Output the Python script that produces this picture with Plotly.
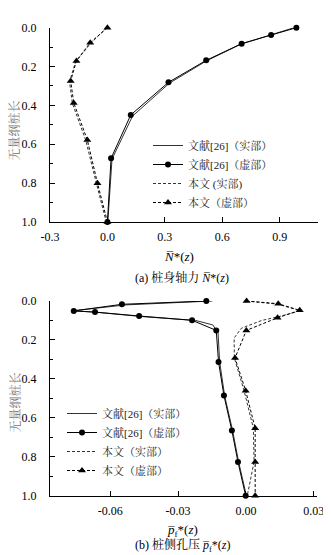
import plotly.graph_objects as go

# ---------- data: (a) axial force ----------
a_ref_imag_z = [0.0, 0.038, 0.082, 0.168, 0.281, 0.449, 0.672, 1.0]
a_ref_imag_x = [0.987, 0.855, 0.701, 0.516, 0.319, 0.122, 0.019, 0.0]
a_ref_real_z = [0.0, 0.040, 0.085, 0.172, 0.286, 0.455, 0.676, 1.0]
a_ref_real_x = [0.975, 0.848, 0.697, 0.515, 0.323, 0.131, 0.024, 0.002]

a_our_imag_z = [0.0, 0.077, 0.171, 0.274, 0.387, 0.578, 0.80, 1.0]
a_our_imag_x = [0.0, -0.090, -0.162, -0.192, -0.176, -0.105, -0.052, 0.0]
a_our_real_z = [0.0, 0.080, 0.175, 0.278, 0.390, 0.580, 0.80, 1.0]
a_our_real_x = [-0.004, -0.087, -0.166, -0.198, -0.183, -0.113, -0.058, -0.006]

# ---------- data: (b) pore pressure ----------
b_ref_imag_z = [0.0, 0.017, 0.051, 0.057, 0.077, 0.099, 0.151, 0.313, 0.486, 0.665, 0.827, 1.0]
b_ref_imag_x = [-0.0175, -0.0548, -0.0761, -0.0667, -0.0472, -0.0238, -0.0131, -0.0121,
                -0.0097, -0.0062, -0.0035, -0.0001]
b_ref_real_z = [0.0, 0.020, 0.050, 0.058, 0.080, 0.100, 0.123, 0.165, 0.313, 0.486, 0.665, 0.827, 1.0]
b_ref_real_x = [-0.0148, -0.0530, -0.0765, -0.0660, -0.0460, -0.0222, -0.0146, -0.0123,
                -0.0116, -0.0094, -0.0059, -0.0032, 0.0002]

b_our_imag_z = [0.0, 0.014, 0.048, 0.086, 0.151, 0.293, 0.461, 0.654, 0.827, 1.0]
b_our_imag_x = [0.0003, 0.0143, 0.0238, 0.0140, 0.0002, -0.0048, -0.0001, 0.0041, 0.0041, 0.0041]
b_our_real_z = [0.0, 0.016, 0.050, 0.076, 0.100, 0.140, 0.190, 0.293, 0.461, 0.654, 0.827, 1.0]
b_our_real_x = [0.0002, 0.0140, 0.0240, 0.0160, 0.0070, -0.0020, -0.0052, -0.0051,
                -0.0008, 0.0033, 0.0036, 0.0006]

# ---------- tick labels ----------
a_xticks = [-0.3, 0.0, 0.3, 0.6, 0.9]
a_xtext = ["-0.3", "0.0", "0.3", "0.6", "0.9"]
b_xticks = [-0.06, -0.03, 0.0, 0.03]
b_xtext = ["-0.06", "-0.03", "0.00", "0.03"]
yticks = [0.0, 0.2, 0.4, 0.6, 0.8, 1.0]
ytext = ["0.0", "0.2", "0.4", "0.6", "0.8", "1.0"]

names_a = ["文献[26]（实部）", "文献[26]（虚部）", "本文 (实部)", "本文（虚部）"]
names_b = ["文献[26]（实部）", "文献[26]（虚部）", "本文（实部）", "本文（虚部）"]

SERIF = "'Liberation Serif', 'Times New Roman', Times, 'Noto Serif CJK SC', 'Noto Sans CJK SC', serif"

# page body has an 8px default margin: figure covers 8..331 x 8..555
OFF = 8
W, H = 331 - OFF, 555 - OFF

def px(x):
    return (x - OFF) / W

def py(y):
    return 1 - (y - OFF) / H

fig = go.Figure()

def add_set(xr, zr, xi, zi, xo, zo, xoi, zoi, names, xa, ya, leg):
    fig.add_trace(go.Scatter(x=xr, y=zr, mode="lines", name=names[0],
                             line=dict(color="#333", width=1), xaxis=xa, yaxis=ya,
                             legend=leg, cliponaxis=False))
    fig.add_trace(go.Scatter(x=xi, y=zi, mode="lines+markers", name=names[1],
                             line=dict(color="black", width=1),
                             marker=dict(symbol="circle", size=6, color="black"),
                             xaxis=xa, yaxis=ya, legend=leg, cliponaxis=False))
    fig.add_trace(go.Scatter(x=xo, y=zo, mode="lines", name=names[2],
                             line=dict(color="#333", width=1, dash="3px,2px"),
                             xaxis=xa, yaxis=ya, legend=leg, cliponaxis=False))
    fig.add_trace(go.Scatter(x=xoi, y=zoi, mode="lines+markers", name=names[3],
                             line=dict(color="black", width=1, dash="3px,2px"),
                             marker=dict(symbol="triangle-up", size=7, color="black"),
                             xaxis=xa, yaxis=ya, legend=leg, cliponaxis=False))

add_set(a_ref_real_x, a_ref_real_z, a_ref_imag_x, a_ref_imag_z,
        a_our_real_x, a_our_real_z, a_our_imag_x, a_our_imag_z, names_a, "x", "y", "legend")
add_set(b_ref_real_x, b_ref_real_z, b_ref_imag_x, b_ref_imag_z,
        b_our_real_x, b_our_real_z, b_our_imag_x, b_our_imag_z, names_b, "x2", "y2", "legend2")

tickfont = dict(family=SERIF, size=12, color="black")
common_x = dict(showline=True, linecolor="black", linewidth=1, mirror=False,
                ticks="inside", ticklen=5, tickcolor="black", tickwidth=1,
                showgrid=False, zeroline=False, tickfont=tickfont, automargin=False,
                ticklabelstandoff=4)
common_y = dict(showline=True, linecolor="black", linewidth=1, mirror=False,
                ticks="inside", ticklen=5, tickcolor="black", tickwidth=1,
                showgrid=False, zeroline=False, tickfont=tickfont, automargin=False,
                range=[1.0, 0.0], tickvals=yticks, ticktext=ytext,
                minor=dict(tickvals=[0.1, 0.3, 0.5, 0.7, 0.9], ticks="inside",
                           ticklen=3, tickcolor="black", showgrid=False),
                ticklabelstandoff=10)

legfont = dict(family=SERIF, size=11, color="#222")
fig.update_layout(
    width=W, height=H, autosize=False,
    margin=dict(l=0, r=0, t=0, b=0),
    paper_bgcolor="white", plot_bgcolor="white",
    xaxis=dict(domain=[px(50), px(318)], range=[-0.3, 1.1], anchor="y",
               tickvals=a_xticks, ticktext=a_xtext, **common_x),
    yaxis=dict(domain=[py(222), py(27.7)], anchor="x", **common_y),
    xaxis2=dict(domain=[px(50), px(316.7)], range=[-0.0866, 0.0313], anchor="y2",
                tickvals=b_xticks, ticktext=b_xtext, **common_x),
    yaxis2=dict(domain=[py(495.7), py(301)], anchor="x2", **common_y),
    legend=dict(x=px(148), y=py(131), xanchor="left", yanchor="top",
                bgcolor="rgba(0,0,0,0)", font=legfont, tracegroupgap=0),
    legend2=dict(x=px(62), y=py(399), xanchor="left", yanchor="top",
                 bgcolor="rgba(0,0,0,0)", font=legfont, tracegroupgap=0),
)

ann_font = dict(family=SERIF, size=12, color="black")
anns = [
    dict(text="无量纲桩长", x=px(14.5), y=py(131), textangle=-90,
         font=dict(family=SERIF, size=12, color="#777")),
    dict(text="无量纲桩长", x=px(14.5), y=py(403), textangle=-90,
         font=dict(family=SERIF, size=12, color="#777")),
    dict(text="<i>N\u0305</i>*(<i>z</i>)", x=px(179), y=py(257),
         font=dict(family=SERIF, size=13, color="black")),
    dict(text="(a) 桩身轴力 <i>N\u0305</i>*(<i>z</i>)", x=px(182), y=py(277), font=ann_font),
    dict(text="<i>p\u0305</i><sub>f</sub>*(<i>z</i>)", x=px(182), y=py(530),
         font=dict(family=SERIF, size=13, color="black")),
    dict(text="(b) 桩侧孔压 <i>p\u0305</i><sub>f</sub>*(<i>z</i>)", x=px(182), y=py(545),
         font=ann_font),
]
for a in anns:
    fig.add_annotation(xref="paper", yref="paper", showarrow=False,
                       xanchor="center", yanchor="middle", **a)

fig.write_html("out.html")
